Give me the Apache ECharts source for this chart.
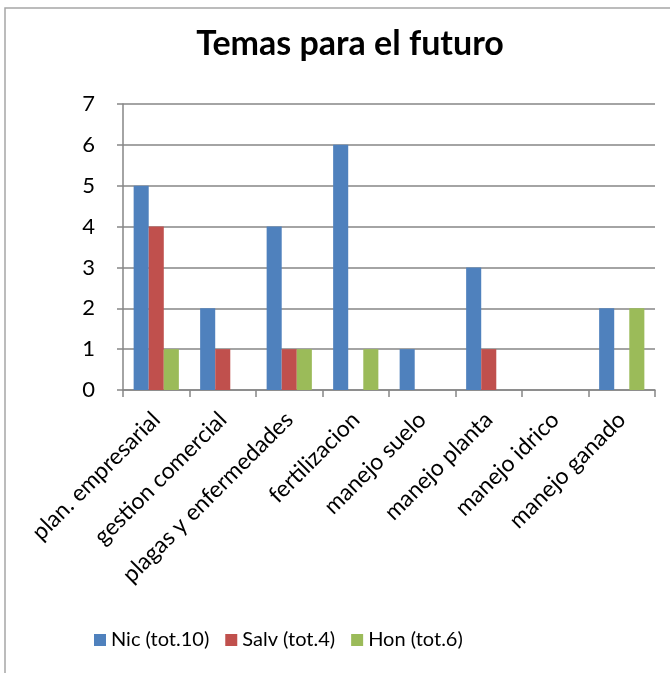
<!DOCTYPE html>
<html>
<head>
<meta charset="utf-8">
<script src="https://cdn.jsdelivr.net/npm/echarts@6/dist/echarts.min.js"></script>
<style>
  html, body { margin: 0; padding: 0; background: #fff; }
  #chart { width: 670px; height: 673px; }
</style>
</head>
<body>
<div id="chart"></div>
<script>
// categorias y valores
var categorias = ['plan. empresarial', 'gestion comercial', 'plagas y enfermedades', 'fertilizacion',
  'manejo suelo', 'manejo planta', 'manejo idrico', 'manejo ganado'];
var nic = [5, 2, 4, 6, 1, 3, 0, 2];
var salv = [4, 1, 1, 0, 0, 1, 0, 0];
var hon = [1, 0, 1, 1, 0, 0, 0, 2];
var nombres = ['Nic (tot.10)', 'Salv (tot.4)', 'Hon (tot.6)'];
var colores = ['#4F81BD', '#C0504D', '#9BBB59'];

var fuente = 'Lato, "Open Sans", sans-serif';
var chart = echarts.init(document.getElementById('chart'));

var serie = function (i, datos) {
  return {
    name: nombres[i],
    type: 'bar',
    data: datos,
    barGap: '0%',
    barCategoryGap: '32%',
    itemStyle: { color: colores[i] }
  };
};

var option = {
  animation: false,
  color: colores,
  title: {
    text: 'Temas para el futuro',
    left: 345,
    textAlign: 'center',
    top: 22,
    textStyle: { fontFamily: fuente, fontSize: 34, fontWeight: 'bold', color: '#000' }
  },
  legend: {
    bottom: 18,
    left: 89,
    itemWidth: 12,
    itemHeight: 12,
    itemGap: 16,
    icon: 'rect',
    textStyle: { fontFamily: fuente, fontSize: 20, color: '#000' },
    data: nombres
  },
  grid: { left: 123, right: 15, top: 104, bottom: 283, containLabel: false },
  xAxis: {
    type: 'category',
    data: categorias,
    axisLine: { lineStyle: { color: '#868686', width: 1.5 } },
    axisTick: { show: true, length: 7, lineStyle: { color: '#868686', width: 1.5 } },
    axisLabel: { rotate: 45, interval: 0, margin: 26, fontFamily: fuente, fontSize: 23, color: '#000' }
  },
  yAxis: {
    type: 'value',
    min: 0,
    max: 7,
    interval: 1,
    axisLine: { show: true, lineStyle: { color: '#868686', width: 1.5 } },
    axisTick: { show: true, length: 6, lineStyle: { color: '#868686', width: 1.5 } },
    splitLine: { lineStyle: { color: '#868686', width: 1.5 } },
    axisLabel: { margin: 28, fontFamily: fuente, fontSize: 22, color: '#000' }
  },
  graphic: [{
    type: 'rect',
    shape: { x: 5, y: 8, width: 700, height: 700 },
    style: { fill: 'none', stroke: '#a6a6a6', lineWidth: 1.5 },
    silent: true
  }],
  series: [serie(0, nic), serie(1, salv), serie(2, hon)]
};

chart.setOption(option);
</script>
</body>
</html>
